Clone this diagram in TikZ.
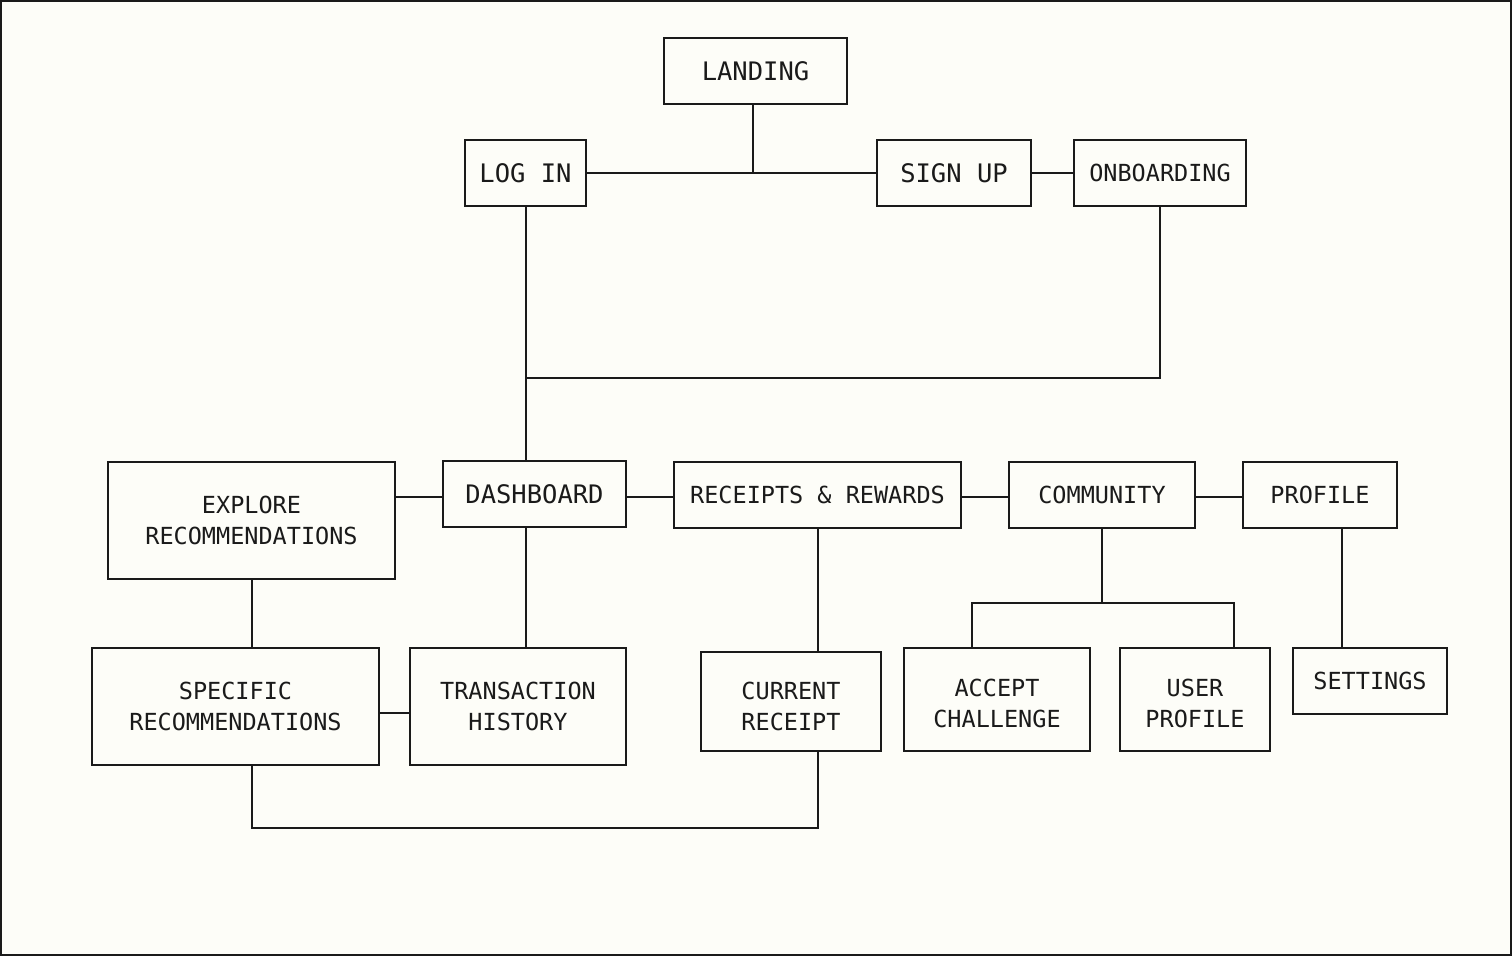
\documentclass[tikz,border=0pt]{standalone}
\usepackage{fontspec}
\setmonofont{DejaVu Sans Mono}
\usetikzlibrary{calc}
\definecolor{bg}{HTML}{FDFDF8}
\definecolor{ink}{HTML}{1A1A1A}
\tikzset{
  box/.style={draw=ink, line width=1.2pt, inner sep=0pt, align=center, text=ink,
    font=\ttfamily\fontsize{23.5}{31}\selectfont},
  bigbox/.style={box, font=\ttfamily\fontsize{25.5}{31}\selectfont},
  txt/.style={inner sep=0pt, align=center, text=ink, font=\ttfamily\fontsize{23.5}{31}\selectfont},
  link/.style={draw=ink, line width=2pt}
}
\begin{document}
\begin{tikzpicture}[x=1pt,y=-1pt]
\fill[bg] (0,0) rectangle (1512,956);
\draw[ink, line width=2pt] (1,1) rectangle (1511,955);
\useasboundingbox (0,0) rectangle (1512,956);
% boxes
\node[bigbox, minimum width=183, minimum height=66] (landing) at (755.5,71) {LANDING};
\node[bigbox, minimum width=121, minimum height=66] (login) at (525.5,173) {LOG IN};
\node[bigbox, minimum width=154, minimum height=66] (signup) at (954,173) {SIGN UP};
\node[box, minimum width=172, minimum height=66] (onb) at (1160,173) {ONBOARDING};
\node[bigbox, minimum width=183, minimum height=66] (dash) at (534.5,494) {DASHBOARD};
\node[box, minimum width=287, minimum height=117] (explore) at (251.5,520.5) {EXPLORE\\RECOMMENDATIONS};
\node[box, minimum width=287, minimum height=66] (rr) at (817.5,495) {RECEIPTS \& REWARDS};
\node[box, minimum width=186, minimum height=66] (comm) at (1102,495) {COMMUNITY};
\node[box, minimum width=154, minimum height=66] (prof) at (1320,495) {PROFILE};
\node[box, minimum width=287, minimum height=117] (spec) at (235.5,706.5) {SPECIFIC\\RECOMMENDATIONS};
\node[box, minimum width=216, minimum height=117] (trans) at (518,706.5) {TRANSACTION\\HISTORY};
\node[box, minimum width=180, minimum height=99] (cur) at (791,701.5) {};
\node[txt] (curT) at ($(cur)+(0,5)$) {CURRENT\\RECEIPT};
\node[box, minimum width=186, minimum height=103] (acc) at (997,699.5) {};
\node[txt] (accT) at ($(acc)+(0,4)$) {ACCEPT\\CHALLENGE};
\node[box, minimum width=150, minimum height=103] (user) at (1195,699.5) {};
\node[txt] (userT) at ($(user)+(0,4)$) {USER\\PROFILE};
\node[box, minimum width=154, minimum height=66] (set) at (1370,681) {SETTINGS};
% junction coordinates
\coordinate (j1) at (525.5,378);
\coordinate (j2) at (251.5,828);
\coordinate (j3) at (1102,603);
\coordinate (hrow) at (0,497);
% connectors
\draw[link] ($(landing.south)+(-2.5,0)$) -- ($(landing.south |- login.east)+(-2.5,0)$);
\draw[link] (login.east) -- (signup.west);
\draw[link] (signup.east) -- (onb.west);
\draw[link] (login.south) -- (login.south |- dash.north);
\draw[link] (onb.south) |- (j1);
\draw[link] (explore.east |- hrow) -- (dash.west |- hrow);
\draw[link] (dash.east |- hrow) -- (rr.west |- hrow);
\draw[link] (rr.east |- hrow) -- (comm.west |- hrow);
\draw[link] (comm.east |- hrow) -- (prof.west |- hrow);
\draw[link] (explore.south) -- (explore.south |- spec.north);
\draw[link] (login.south |- dash.south) -- (login.south |- trans.north);
\draw[link] ($(spec.east)+(0,6.5)$) -- ($(spec.east -| trans.west)+(0,6.5)$);
\draw[link] (rr.south) -- (rr.south |- cur.north);
\draw[link] (explore.south |- spec.south) -- (j2) -- (rr.south |- j2) -- (rr.south |- cur.south);
\draw[link] (comm.south) -- (j3);
\draw[link] ($(acc.north)+(-25,0)$) |- (j3) -| ($(user.north)+(39,0)$);
\draw[link] ($(prof.south)+(22,0)$) -- ($(prof.south |- set.north)+(22,0)$);
\end{tikzpicture}
\end{document}
